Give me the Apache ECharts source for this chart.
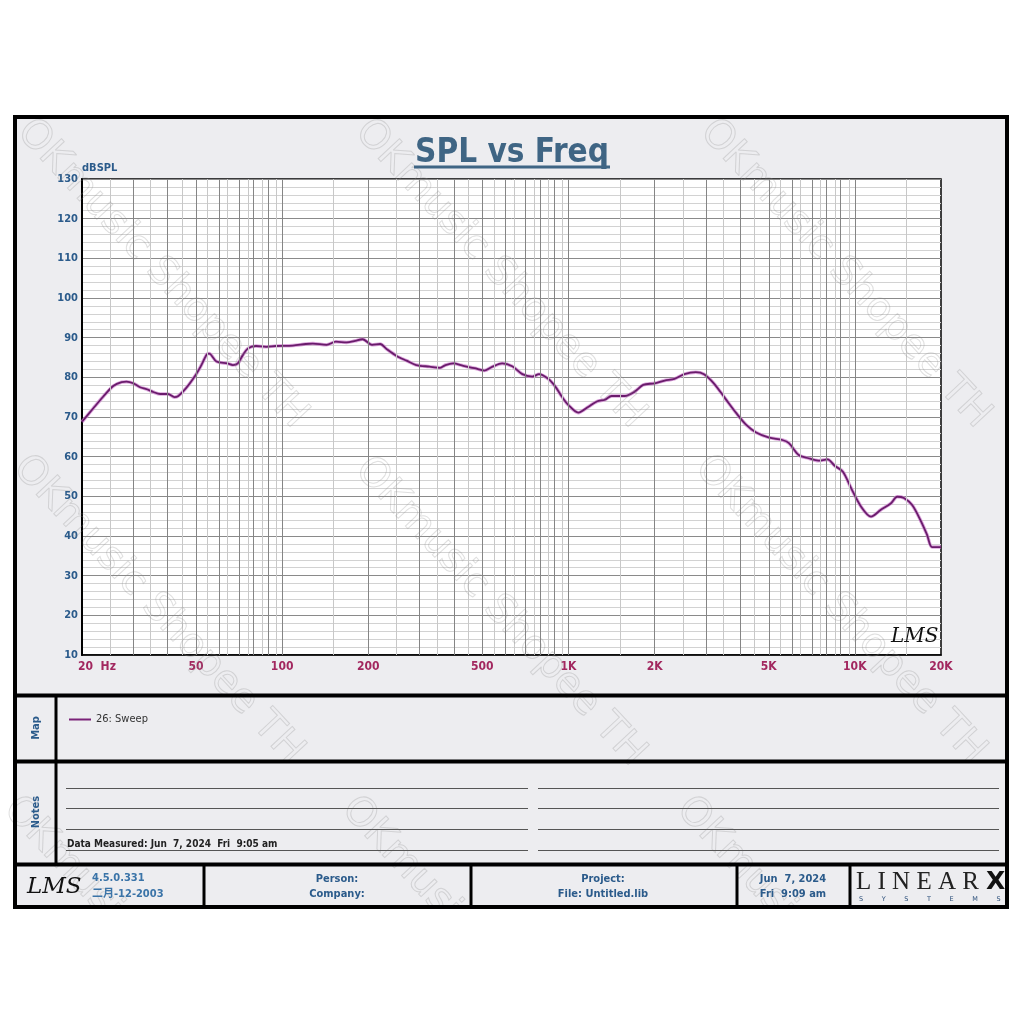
<!DOCTYPE html>
<html>
<head>
<meta charset="utf-8">
<script src="https://cdn.jsdelivr.net/npm/echarts@6/dist/echarts.min.js"></script>
<style>html,body{margin:0;padding:0;background:#fff}#c{width:1024px;height:1024px}</style>
</head>
<body>
<div id="c"></div>
<script>
// ---- data ----
var freqHz = [20, 21.9, 23.7, 25.7, 27.5, 28.6, 30.2, 31.9, 33.7, 35.5,
  37.5, 39.9, 42.1, 43.4, 46.1, 49.9, 51.9, 54.6, 55.6, 59,
  64.4, 67.3, 70, 72.9, 76, 81, 88, 95, 109, 121,
  128, 143, 154, 168, 180, 191, 206, 220, 232, 251,
  272, 294, 327, 356, 372, 396, 429, 470, 509, 543,
  587, 636, 690, 748, 789, 854, 901, 949, 1000, 1082,
  1175, 1256, 1342, 1414, 1571, 1703, 1824, 2000, 2168, 2345,
  2540, 2784, 2974, 3218, 3526, 3863, 4179, 4522, 5024, 5586,
  5889, 6373, 6895, 7460, 8030, 8508, 9087, 9717, 10520, 11390,
  12330, 13350, 14070, 14840, 15860, 16950, 17880, 18620, 20000];
var splDb = [68.8, 72.2, 75.1, 77.8, 78.8, 78.9, 78.5, 77.5, 77.0, 76.3,
  75.8, 75.8, 75.0, 75.3, 77.2, 80.6, 82.7, 85.8, 86.0, 84.0,
  83.5, 83.1, 83.5, 85.6, 87.3, 87.9, 87.7, 87.9, 88.0, 88.4,
  88.5, 88.2, 89.0, 88.8, 89.2, 89.6, 88.2, 88.4, 87.1, 85.4,
  84.2, 83.1, 82.7, 82.4, 83.1, 83.5, 82.9, 82.3, 81.7, 82.7,
  83.5, 82.8, 80.8, 80.2, 80.8, 79.5, 77.6, 75.1, 73.0, 71.1,
  72.6, 73.9, 74.4, 75.3, 75.3, 76.4, 78.1, 78.5, 79.2, 79.6,
  80.8, 81.3, 80.8, 78.5, 74.7, 70.9, 68.0, 66.1, 64.8, 64.2,
  63.4, 60.4, 59.6, 59.0, 59.3, 57.7, 56.2, 52.0, 47.4, 44.9,
  46.6, 48.2, 49.9, 49.6, 47.8, 44.0, 40.3, 37.2, 37.2];
var xTickValues = [20, 50, 100, 200, 500, 1000, 2000, 5000, 10000, 20000];
var xTickLabels = ['20  Hz', '50', '100', '200', '500', '1K', '2K', '5K', '10K', '20K'];
var seriesName = '26: Sweep';
var titleText = 'SPL vs Freq';
var yName = 'dBSPL';

// ---- build ----
var FF = "'DejaVu Sans Condensed','DejaVu Sans',sans-serif";
var BLUE = '#2b5b8b';
var lg = function (v) { return Math.log10(v); };
var lineData = freqHz.map(function (f, i) { return [lg(f), splDb[i]]; });

// vertical log grid lines (k and k+0.5 times each decade)
var vMajor = [], vMinor = [];
[10, 100, 1000, 10000].forEach(function (d) {
  for (var k = 1; k <= 9.5; k += 0.5) {
    var f = k * d;
    if (f <= 20 || f >= 20000) continue;
    (k % 1 === 0 ? vMajor : vMinor).push(f);
  }
});
var gridMarks = [];
vMinor.forEach(function (f) { gridMarks.push({ xAxis: lg(f), lineStyle: { color: '#c8c8c8', width: 1, type: 'solid' } }); });
vMajor.forEach(function (f) { gridMarks.push({ xAxis: lg(f), lineStyle: { color: '#858585', width: 1, type: 'solid' } }); });

var labelMap = {};
xTickValues.forEach(function (v, i) { labelMap[lg(v).toFixed(5)] = xTickLabels[i]; });

function txt(x, y, s, font, color, align, extra) {
  var e = { type: 'text', x: x, y: y, silent: true, z: 100,
    style: { text: s, font: font, fill: color, align: align || 'left', textAlign: align || 'left', verticalAlign: 'middle', textVerticalAlign: 'middle' } };
  if (extra) for (var k in extra) e[k] = extra[k];
  return e;
}
function ln(x1, y1, x2, y2, w, c) {
  return { type: 'line', silent: true, z: 90, shape: { x1: x1, y1: y1, x2: x2, y2: y2 }, style: { stroke: c || '#000', lineWidth: w } };
}

var g = [];
// watermark (under the frame lines, over the panels)
function wm(x, y, s, align) {
  return { type: 'text', x: x, y: y, rotation: -0.82, silent: true, z: 80,
    style: { text: s, font: '40px "DejaVu Sans",sans-serif', fill: 'rgba(0,0,0,0)', stroke: 'rgba(140,140,140,0.28)', lineWidth: 1,
      align: align, textAlign: align, verticalAlign: 'middle', textVerticalAlign: 'middle' } };
}
[[162, 274], [500, 274], [845, 274], [158, 610], [500, 612], [840, 610]].forEach(function (p) { g.push(wm(p[0], p[1], 'OKmusic Shopee TH', 'center')); });
[[10, 803], [348, 803], [683, 803]].forEach(function (p) { g.push(wm(p[0], p[1], 'OKmusic', 'left')); });
// outer frame
g.push({ type: 'rect', z: -10, silent: true, shape: { x: 15, y: 117, width: 992, height: 790 }, style: { fill: '#ededf0', stroke: 'none' } });
g.push({ type: 'rect', z: 95, silent: true, shape: { x: 15, y: 117, width: 992, height: 790 }, style: { fill: 'none', stroke: '#000', lineWidth: 4 } });
g.push({ type: 'rect', z: 95, silent: true, shape: { x: 0, y: 909, width: 1024, height: 115 }, style: { fill: '#fff' } });
g.push(ln(14, 695.5, 1008, 695.5, 4));
g.push(ln(14, 761.5, 1008, 761.5, 4));
g.push(ln(14, 864.5, 1008, 864.5, 4));
g.push(ln(56, 695, 56, 864, 3));
[204, 471, 737, 850].forEach(function (x) { g.push(ln(x, 864, x, 907, 3)); });
// title underline
g.push(ln(414, 167, 610, 167, 3, '#3f6584'));
// panel labels
g.push(txt(36, 728, 'Map', 'bold 11px ' + FF, BLUE, 'center', { rotation: Math.PI / 2 }));
g.push(txt(36, 812, 'Notes', 'bold 11px ' + FF, BLUE, 'center', { rotation: Math.PI / 2 }));
// notes lines
[788.5, 808.5, 829.5, 850.5].forEach(function (y) {
  g.push(ln(66, y, 528, y, 1, '#555'));
  g.push(ln(538, y, 999, y, 1, '#555'));
});
g.push(txt(67, 844, 'Data Measured: Jun  7, 2024  Fri  9:05 am', 'bold 10px ' + FF, '#222', 'left'));
// footer
g.push(txt(27, 887, 'LMS', 'italic 23px "DejaVu Serif",serif', '#111', 'left'));
g.push(txt(92, 878, '4.5.0.331', 'bold 11px ' + FF, '#3b74a8', 'left'));
g.push(txt(92, 894, '二月-12-2003', "bold 11px 'DejaVu Sans Condensed','Noto Sans CJK SC',sans-serif", '#3b74a8', 'left'));
g.push(txt(337, 879, 'Person:', 'bold 11px ' + FF, BLUE, 'center'));
g.push(txt(337, 894, 'Company:', 'bold 11px ' + FF, BLUE, 'center'));
g.push(txt(603, 879, 'Project:', 'bold 11px ' + FF, BLUE, 'center'));
g.push(txt(603, 894, 'File: Untitled.lib', 'bold 11px ' + FF, BLUE, 'center'));
g.push(txt(793, 879, 'Jun  7, 2024', 'bold 11px ' + FF, BLUE, 'center'));
g.push(txt(793, 894, 'Fri  9:09 am', 'bold 11px ' + FF, BLUE, 'center'));
g.push(txt(856, 882, 'L I N E A R', '25px "Liberation Serif",serif', '#222', 'left'));
g.push(txt(986, 882, 'X', 'bold 25px "DejaVu Sans",sans-serif', '#111', 'left'));
g.push(txt(859, 899, 'S         Y         S         T         E         M         S', '6.5px "DejaVu Sans",sans-serif', '#2b4f7a', 'left'));
// plot logo
g.push(txt(891, 637, 'LMS', 'italic 20px "DejaVu Serif",serif', '#111', 'left'));

var option = {
  backgroundColor: '#ffffff',
  animation: false,
  title: { text: titleText, left: 'center', top: 132, textStyle: { fontFamily: FF, fontSize: 33, fontWeight: 'bold', color: '#3f6584' } },
  legend: { data: [seriesName], left: 64, top: 709, icon: 'rect', itemWidth: 22, itemHeight: 2, itemGap: 6,
    textStyle: { fontFamily: FF, fontSize: 11, color: '#333' } },
  grid: { left: 82, top: 179, right: 83, bottom: 369, show: true, backgroundColor: '#ffffff', borderColor: '#000', borderWidth: 1.5 },
  xAxis: {
    type: 'value', min: lg(20), max: lg(20000),
    axisLine: { show: true, lineStyle: { color: '#000', width: 1.5 } },
    axisTick: { show: false },
    splitLine: { show: false },
    axisLabel: {
      customValues: xTickValues.map(lg),
      margin: 6,
      color: '#a2275f', fontFamily: FF, fontWeight: 'bold', fontSize: 12,
      formatter: function (v) {
        var s = labelMap[v.toFixed(5)] || '';
        return s === xTickLabels[0] ? '{f|' + s + '}' : s;
      },
      rich: { f: { padding: [0, 0, 0, 30], color: '#a2275f', fontFamily: FF, fontWeight: 'bold', fontSize: 12 } }
    }
  },
  yAxis: {
    type: 'value', min: 10, max: 130, interval: 10,
    name: yName, nameLocation: 'end', nameGap: 4,
    nameTextStyle: { align: 'left', verticalAlign: 'bottom', color: BLUE, fontFamily: FF, fontWeight: 'bold', fontSize: 11 },
    axisLine: { show: true, lineStyle: { color: '#000', width: 2 } },
    axisTick: { show: false },
    axisLabel: { margin: 4, color: BLUE, fontFamily: FF, fontWeight: 'bold', fontSize: 11 },
    splitLine: { show: true, lineStyle: { color: '#8a8a8a', width: 1 } },
    minorTick: { show: false, splitNumber: 5 },
    minorSplitLine: { show: true, lineStyle: { color: '#d2d2d2', width: 1 } }
  },
  series: [
    { name: 'grid', type: 'line', data: [], silent: true, z: 1,
      markLine: { silent: true, symbol: 'none', label: { show: false }, animation: false, data: gridMarks } },
    { name: 'glow', type: 'line', data: lineData, silent: true, z: 3, symbol: 'none', smooth: 0.3,
      lineStyle: { color: '#cf86cf', width: 3.5, opacity: 0.75 } },
    { name: seriesName, type: 'line', data: lineData, z: 4, symbol: 'none', smooth: 0.3,
      itemStyle: { color: '#7a2278' },
      lineStyle: { color: '#6a1c6c', width: 1.8 } }
  ],
  graphic: { elements: g }
};
var chart = echarts.init(document.getElementById('c'), null, { renderer: 'canvas' });
chart.setOption(option);
</script>
</body>
</html>
